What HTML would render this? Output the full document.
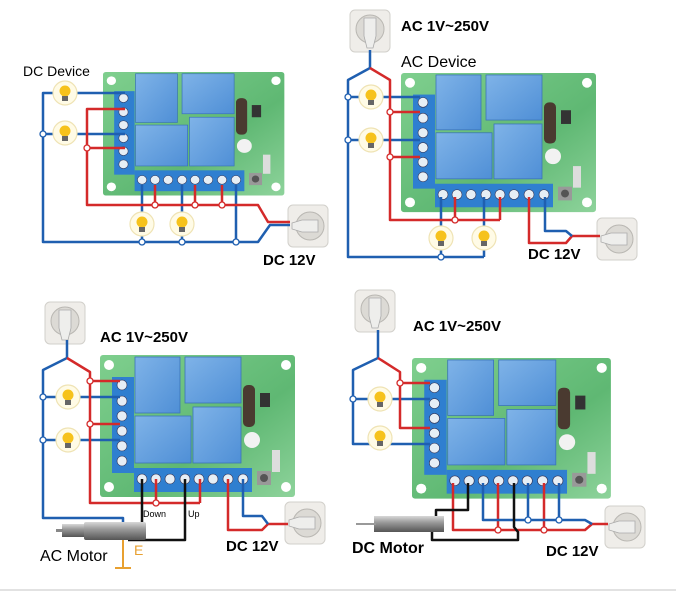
<!DOCTYPE html>
<html><head><meta charset="utf-8"><style>
html,body{margin:0;padding:0;background:#fff;}
svg{display:block;}
.t{font-family:"Liberation Sans",sans-serif;}
</style></head><body>
<svg width="676" height="596" viewBox="0 0 676 596" xmlns="http://www.w3.org/2000/svg">
<defs>
<linearGradient id="pcb" x1="0" y1="0" x2="1" y2="1">
<stop offset="0" stop-color="#7fcf8e"/><stop offset="0.6" stop-color="#5fb873"/><stop offset="1" stop-color="#8ed39b"/></linearGradient>
<linearGradient id="rel" x1="0" y1="0" x2="1" y2="1">
<stop offset="0" stop-color="#7fb3e8"/><stop offset="1" stop-color="#4f8fd6"/></linearGradient>
<linearGradient id="mot" x1="0" y1="0" x2="0" y2="1">
<stop offset="0" stop-color="#d8d8d8"/><stop offset="0.4" stop-color="#9a9a9a"/><stop offset="1" stop-color="#555"/></linearGradient>
<g id="board">
<rect x="0" y="0" width="195" height="142" rx="3" fill="url(#pcb)"/>
<circle cx="9" cy="10" r="5" fill="#fff"/><circle cx="186" cy="10" r="5" fill="#fff"/>
<circle cx="9" cy="132" r="5" fill="#fff"/><circle cx="186" cy="132" r="5" fill="#fff"/>
<rect x="12" y="22" width="22" height="96" fill="#2f7fd0"/>
<g fill="#e6eef5" stroke="#335" stroke-width="0.6">
<circle cx="22" cy="30" r="5"/><circle cx="22" cy="46" r="5"/><circle cx="22" cy="61" r="5"/><circle cx="22" cy="76" r="5"/><circle cx="22" cy="91" r="5"/><circle cx="22" cy="106" r="5"/></g>
<rect x="35" y="2" width="45" height="56" fill="url(#rel)" stroke="#3b74b8" stroke-width="0.8"/>
<rect x="85" y="2" width="56" height="46" fill="url(#rel)" stroke="#3b74b8" stroke-width="0.8"/>
<rect x="35" y="61" width="56" height="47" fill="url(#rel)" stroke="#3b74b8" stroke-width="0.8"/>
<rect x="93" y="52" width="48" height="56" fill="url(#rel)" stroke="#3b74b8" stroke-width="0.8"/>
<rect x="143" y="30" width="12" height="42" rx="5" fill="#4a3a30"/>
<circle cx="152" cy="85" r="8" fill="#f2f2f2"/>
<rect x="160" y="38" width="10" height="14" fill="#333"/>
<rect x="172" y="95" width="8" height="22" fill="#ddd"/>
<rect x="34" y="113" width="118" height="24" fill="#2f7fd0"/>
<g fill="#e6eef5" stroke="#335" stroke-width="0.6">
<circle cx="42" cy="124" r="5"/><circle cx="56" cy="124" r="5"/><circle cx="70" cy="124" r="5"/><circle cx="85" cy="124" r="5"/><circle cx="99" cy="124" r="5"/><circle cx="113" cy="124" r="5"/><circle cx="128" cy="124" r="5"/><circle cx="143" cy="124" r="5"/></g>
<rect x="157" y="116" width="14" height="14" fill="#999"/><circle cx="164" cy="123" r="4" fill="#555"/>
</g>
<g id="bulb">
<circle cx="0" cy="0" r="12" fill="#fffbe6" stroke="#efe3b4" stroke-width="1.2"/>
<circle cx="0" cy="-2" r="5.5" fill="#f6c21c"/>
<rect x="-3" y="3" width="6" height="5" fill="#666"/>
</g>
<g id="plugH">
<rect x="0" y="0" width="40" height="42" rx="5" fill="#efede9" stroke="#d2d0cb"/>
<circle cx="22" cy="21" r="14" fill="#dcdad5" stroke="#b9b7b2"/>
<path d="M4 18 L14 15 L30 15 L30 27 L14 27 L4 24 Z" fill="#eeeeec" stroke="#aaa" stroke-width="0.8"/>
</g>
<g id="plugV">
<rect x="0" y="0" width="40" height="42" rx="5" fill="#efede9" stroke="#d2d0cb"/>
<circle cx="20" cy="19" r="14" fill="#dcdad5" stroke="#b9b7b2"/>
<path d="M14 8 L26 8 L26 26 L23 38 L17 38 L14 26 Z" fill="#eeeeec" stroke="#aaa" stroke-width="0.8"/>
</g>
</defs>

<!-- ========== TOP LEFT ========== -->
<use href="#board" transform="translate(103,72) scale(0.93,0.87)"/>
<use href="#plugH" x="288" y="205"/>
<g fill="none" stroke-width="2.5" stroke-linejoin="round">
<path d="M125 93 H43 V242 H258 L270 225 H290" stroke="#1f5fb0"/>
<path d="M125 134 H43" stroke="#1f5fb0"/>
<path d="M142 185 V242 M182 185 V242 M236 185 V242" stroke="#1f5fb0"/>
<path d="M125 109 H87 V205 H258 L268 222 H290" stroke="#d42a2a"/>
<path d="M125 148 H87" stroke="#d42a2a"/>
<path d="M155 185 V205 M195 185 V205 M222 185 V205" stroke="#d42a2a"/>
</g>
<g fill="#fff" stroke-width="1.3">
<circle cx="43" cy="134" r="3" stroke="#1f5fb0"/><circle cx="87" cy="148" r="3" stroke="#d42a2a"/>
<circle cx="142" cy="242" r="3" stroke="#1f5fb0"/><circle cx="182" cy="242" r="3" stroke="#1f5fb0"/><circle cx="236" cy="242" r="3" stroke="#1f5fb0"/>
<circle cx="155" cy="205" r="3" stroke="#d42a2a"/><circle cx="195" cy="205" r="3" stroke="#d42a2a"/><circle cx="222" cy="205" r="3" stroke="#d42a2a"/>
</g>
<use href="#bulb" x="65" y="93"/><use href="#bulb" x="65" y="133"/>
<use href="#bulb" x="142" y="224"/><use href="#bulb" x="182" y="224"/>
<text class="t" x="23" y="76" font-size="14">DC Device</text>
<text class="t" x="263" y="265" font-size="15" font-weight="bold">DC 12V</text>

<!-- ========== TOP RIGHT ========== -->
<use href="#board" transform="translate(401,73) scale(1,0.98)"/>
<use href="#plugV" x="350" y="10"/>
<use href="#plugH" x="597" y="218"/>
<g fill="none" stroke-width="2.5" stroke-linejoin="round">
<path d="M370 50 V68 L348 80 V257 H484" stroke="#1f5fb0"/>
<path d="M348 97 H420 M348 140 H420" stroke="#1f5fb0"/>
<path d="M441 197 V257 M484 197 V257" stroke="#1f5fb0"/>
<path d="M370 68 L390 80 V220 H500" stroke="#d42a2a"/>
<path d="M390 112 H420 M390 157 H420" stroke="#d42a2a"/>
<path d="M455 197 V220 M500 197 V220" stroke="#d42a2a"/>
<path d="M529 197 V243 H566 L572 236 H600" stroke="#d42a2a"/>
<path d="M545 197 V231 H566 L572 236" stroke="#1f5fb0"/>
</g>
<g fill="#fff" stroke-width="1.3">
<circle cx="348" cy="97" r="3" stroke="#1f5fb0"/><circle cx="348" cy="140" r="3" stroke="#1f5fb0"/>
<circle cx="390" cy="112" r="3" stroke="#d42a2a"/><circle cx="390" cy="157" r="3" stroke="#d42a2a"/>
<circle cx="455" cy="220" r="3" stroke="#d42a2a"/><circle cx="441" cy="257" r="3" stroke="#1f5fb0"/>
</g>
<use href="#bulb" x="371" y="97"/><use href="#bulb" x="371" y="140"/>
<use href="#bulb" x="441" y="238"/><use href="#bulb" x="484" y="238"/>
<text class="t" x="401" y="31" font-size="15" font-weight="bold">AC 1V~250V</text>
<text class="t" x="401" y="67" font-size="16">AC Device</text>
<text class="t" x="528" y="259" font-size="15" font-weight="bold">DC 12V</text>

<!-- ========== BOTTOM LEFT ========== -->
<use href="#board" transform="translate(100,355)"/>
<use href="#plugV" x="45" y="302"/>
<use href="#plugH" x="285" y="502"/>
<g fill="none" stroke-width="2.5" stroke-linejoin="round">
<path d="M67 340 V358 L43 370 V518 H123 V525" stroke="#1f5fb0"/>
<path d="M43 397 H120 M43 440 H120" stroke="#1f5fb0"/>
<path d="M67 358 L90 372 V503 H200" stroke="#d42a2a"/>
<path d="M90 381 H120 M90 424 H120" stroke="#d42a2a"/>
<path d="M156 479 V503 M200 479 V503" stroke="#d42a2a"/>
<path d="M142 479 V530 H128" stroke="#111"/>
<path d="M185 479 V540 H128" stroke="#111"/>
<path d="M228 479 V530 H262 L268 524 H288" stroke="#d42a2a"/>
<path d="M243 479 V516 H262 L268 524" stroke="#1f5fb0"/>
</g>
<g fill="#fff" stroke-width="1.3">
<circle cx="43" cy="397" r="3" stroke="#1f5fb0"/><circle cx="43" cy="440" r="3" stroke="#1f5fb0"/>
<circle cx="90" cy="381" r="3" stroke="#d42a2a"/><circle cx="90" cy="424" r="3" stroke="#d42a2a"/>
<circle cx="156" cy="503" r="3" stroke="#d42a2a"/>
</g>
<use href="#bulb" x="68" y="397"/><use href="#bulb" x="68" y="440"/>
<rect x="62" y="524" width="24" height="13" fill="url(#mot)"/>
<rect x="84" y="522" width="62" height="18" rx="2" fill="url(#mot)"/>
<rect x="56" y="529" width="7" height="3" fill="#888"/>
<path d="M123 540 V568 M115 568 H131" stroke="#e8a030" stroke-width="2"/>
<text class="t" x="134" y="555" font-size="14" fill="#e8a030">E</text>
<text class="t" x="143" y="517" font-size="9">Down</text>
<text class="t" x="188" y="517" font-size="9">Up</text>
<text class="t" x="40" y="561" font-size="16">AC Motor</text>
<text class="t" x="100" y="342" font-size="15" font-weight="bold">AC 1V~250V</text>
<text class="t" x="226" y="551" font-size="15" font-weight="bold">DC 12V</text>

<!-- ========== BOTTOM RIGHT ========== -->
<use href="#board" transform="translate(412,358) scale(1.02,0.99)"/>
<use href="#plugV" x="355" y="290"/>
<use href="#plugH" x="605" y="506"/>
<g fill="none" stroke-width="2.5" stroke-linejoin="round">
<path d="M378 330 V358 L353 370 V444 H430" stroke="#1f5fb0"/>
<path d="M353 399 H430" stroke="#1f5fb0"/>
<path d="M378 358 L400 372 V428 H430" stroke="#d42a2a"/>
<path d="M400 383 H430" stroke="#d42a2a"/>
<path d="M453 483 V530 H585 L592 524 H608" stroke="#d42a2a"/>
<path d="M498 483 V530 M544 483 V530" stroke="#d42a2a"/>
<path d="M483 483 V520 H585 L592 524" stroke="#1f5fb0"/>
<path d="M528 483 V520 M559 483 V520" stroke="#1f5fb0"/>
<path d="M468 483 V510 H436 V518" stroke="#111"/>
<path d="M514 483 V527 L518 532 V540 H432 V532" stroke="#111"/>
</g>
<g fill="#fff" stroke-width="1.3">
<circle cx="353" cy="399" r="3" stroke="#1f5fb0"/><circle cx="400" cy="383" r="3" stroke="#d42a2a"/>
<circle cx="528" cy="520" r="3" stroke="#1f5fb0"/><circle cx="559" cy="520" r="3" stroke="#1f5fb0"/>
<circle cx="498" cy="530" r="3" stroke="#d42a2a"/><circle cx="544" cy="530" r="3" stroke="#d42a2a"/>
</g>
<use href="#bulb" x="380" y="399"/><use href="#bulb" x="380" y="438"/>
<rect x="374" y="516" width="70" height="16" fill="url(#mot)"/>
<rect x="356" y="523" width="20" height="2" fill="#999"/>
<text class="t" x="352" y="553" font-size="16" font-weight="bold">DC Motor</text>
<text class="t" x="413" y="331" font-size="15" font-weight="bold">AC 1V~250V</text>
<text class="t" x="546" y="556" font-size="15" font-weight="bold">DC 12V</text>

<rect x="0" y="589" width="676" height="2" fill="#e2e2e2"/>
</svg>
</body></html>
